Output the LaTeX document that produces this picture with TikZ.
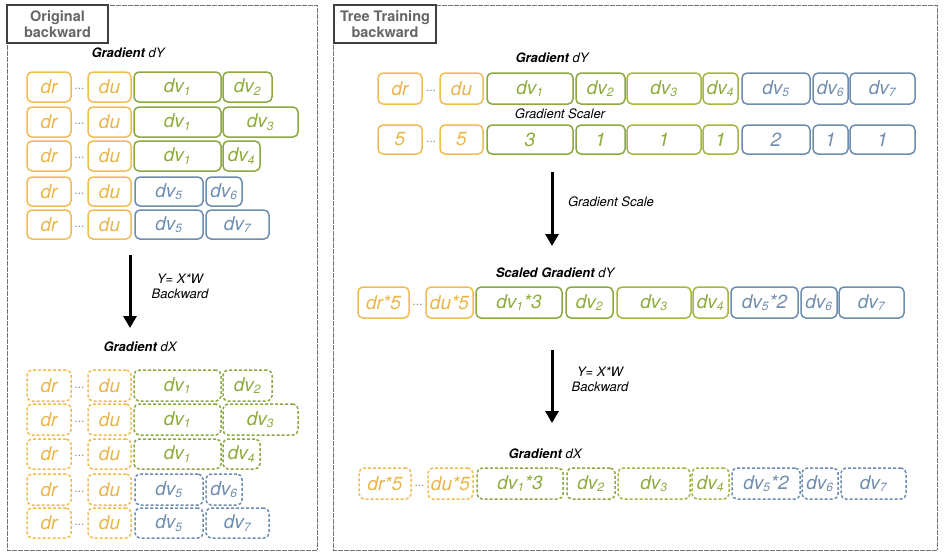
\documentclass[tikz,border=0pt]{standalone}
\usepackage{fontspec}
\setmainfont{TeX Gyre Heros}
\usetikzlibrary{arrows.meta}
\definecolor{orB}{HTML}{F0BC55}
\definecolor{orT}{HTML}{E9B549}
\definecolor{grB}{HTML}{8CA843}
\definecolor{grL}{HTML}{A6B640}
\definecolor{grT}{HTML}{8DAB3C}
\definecolor{blB}{HTML}{6C8DB0}
\definecolor{blT}{HTML}{6E8DAE}
\definecolor{ttl}{HTML}{666666}
\newcommand\sbs[1]{\textsubscript{\fontsize{12}{12}\selectfont #1}}
\newcommand\bx[7]{\node[#1, minimum width={#4-#3}, minimum height={#6-#5}] (#2) at ({(#3+#4)/2},{(#5+#6)/2}) {#7};}
\tikzset{
  cell/.style={draw, rounded corners=5pt, line width=1.5pt, inner sep=0pt, font=\fontsize{19}{19}\selectfont\itshape},
  orc/.style={cell, draw=orB, text=orT},
  grc/.style={cell, draw=grB, text=grT},
  glc/.style={cell, draw=grL, text=grT},
  blc/.style={cell, draw=blB, text=blT},
  dsh/.style={dash pattern=on 3pt off 2pt},
  ord/.style={orc, dsh},
  grd/.style={grc, dsh},
  gld/.style={glc, dsh},
  bld/.style={blc, dsh},
  panel/.style={draw=black!55, line width=0.9pt, dash pattern=on 0.6pt off 0.6pt},
  ttlbox/.style={draw=black!75, line width=1.3pt, fill=white, inner sep=0pt, align=center, text=ttl, font=\fontsize{14.5}{16}\selectfont\bfseries},
  lbl/.style={font=\fontsize{13}{15}\selectfont\itshape, align=center, inner sep=0pt},
  dots/.style={text=black!45, inner sep=0pt, font=\fontsize{12}{12}\selectfont},
  bigarrow/.style={line width=3pt, -{Triangle[width=13pt,length=12pt]}}
}
\begin{document}
\begin{tikzpicture}[x=1pt,y=-1pt]
\useasboundingbox (0,0) rectangle (947,558);
% panels
\draw[panel] (7,5) rectangle (317,550);
\draw[panel] (333,5) rectangle (937,550);
\bx{ttlbox}{t1}{7}{108}{5}{43}{Original\\backward}
\bx{ttlbox}{t2}{334}{436}{5}{43}{Tree Training\\backward}

% ---------- left panel ----------
\node[lbl] (lgy) at (128,53) {\textbf{Gradient} dY};
\foreach \r/\ya/\yb/\st in {1/72/102/,2/107/137/,3/141/171/,4/177/206/,5/210/239/,6/370/401/d,7/404/435/d,8/439/469/d,9/474/505/d,10/508/538/d}{
  \bx{or\ifx\st\empty c\else d\fi}{ldr\r}{27}{71}{\ya}{\yb}{dr}
  \bx{or\ifx\st\empty c\else d\fi}{ldu\r}{88}{131}{\ya}{\yb}{du}
  \node[dots] (ldt\r) at (79.5,{(\ya+\yb)/2+2}) {...};
}
\foreach \r/\ya/\yb/\s in {1/72/102/c,2/107/137/c,3/141/171/c,6/370/401/d,7/404/435/d,8/439/469/d}{
  \bx{gr\s}{lv1\r}{134}{221}{\ya}{\yb}{dv\sbs{1}}
}
\bx{grc}{lv2a}{223}{272}{72}{102}{dv\sbs{2}}
\bx{grc}{lv3a}{223}{298}{107}{137}{dv\sbs{3}}
\bx{grc}{lv4a}{223}{260}{141}{171}{dv\sbs{4}}
\bx{blc}{lv5a}{135}{203}{177}{206}{dv\sbs{5}}
\bx{blc}{lv6a}{206}{242}{177}{206}{dv\sbs{6}}
\bx{blc}{lv5b}{135}{203}{210}{239}{dv\sbs{5}}
\bx{blc}{lv7a}{206}{269}{210}{239}{dv\sbs{7}}
\bx{grd}{lv2b}{223}{272}{370}{401}{dv\sbs{2}}
\bx{grd}{lv3b}{223}{298}{404}{435}{dv\sbs{3}}
\bx{grd}{lv4b}{223}{260}{439}{469}{dv\sbs{4}}
\bx{bld}{lv5c}{135}{203}{474}{505}{dv\sbs{5}}
\bx{bld}{lv6b}{206}{242}{474}{505}{dv\sbs{6}}
\bx{bld}{lv5d}{135}{203}{508}{538}{dv\sbs{5}}
\bx{bld}{lv7b}{206}{269}{508}{538}{dv\sbs{7}}
\coordinate (la1) at (130,255);
\coordinate (la2) at (130,328);
\draw[bigarrow] (la1) -- (la2);
\node[lbl] (llab) at (180,286) {Y= X*W\\Backward};
\node[lbl] (lgx) at (140,347) {\textbf{Gradient} dX};

% ---------- right panel ----------
\node[lbl] (rgy) at (552,58) {\textbf{Gradient} dY};
\bx{orc}{rdr1}{378}{422}{73}{104}{dr}
\node[dots] (rdt1) at (431,90.5) {...};
\bx{orc}{rdu1}{440}{483}{73}{104}{du}
\bx{grc}{rv11}{487}{573}{73}{104}{dv\sbs{1}}
\bx{grc}{rv21}{576}{625}{73}{104}{dv\sbs{2}}
\bx{glc}{rv31}{627}{701}{73}{104}{dv\sbs{3}}
\bx{glc}{rv41}{703}{738}{73}{104}{dv\sbs{4}}
\bx{blc}{rv51}{742}{810}{73}{104}{dv\sbs{5}}
\bx{blc}{rv61}{813}{848}{73}{104}{dv\sbs{6}}
\bx{blc}{rv71}{850}{915}{73}{104}{dv\sbs{7}}
\node[lbl] (rgs) at (560,114) {Gradient Scaler};
\bx{orc}{rdr2}{378}{422}{125}{154}{5}
\node[dots] (rdt2) at (431,141.5) {...};
\bx{orc}{rdu2}{440}{483}{125}{154}{5}
\bx{grc}{rv12}{487}{573}{125}{154}{3}
\bx{grc}{rv22}{576}{625}{125}{154}{1}
\bx{glc}{rv32}{627}{701}{125}{154}{1}
\bx{glc}{rv42}{703}{738}{125}{154}{1}
\bx{blc}{rv52}{742}{810}{125}{154}{2}
\bx{blc}{rv62}{813}{848}{125}{154}{1}
\bx{blc}{rv72}{850}{915}{125}{154}{1}
\coordinate (ra1) at (552,172);
\coordinate (ra2) at (552,246);
\draw[bigarrow] (ra1) -- (ra2);
\node[lbl] (rsc) at (611,202) {Gradient Scale};
\node[lbl] (rsg) at (555,273) {\textbf{Scaled Gradient} dY};
\bx{orc}{rdr3}{358}{409}{287}{318}{dr*5}
\node[dots] (rdt3) at (417.5,304.5) {...};
\bx{orc}{rdu3}{426}{473}{287}{318}{du*5}
\bx{grc}{rv13}{476}{562}{287}{318}{dv\sbs{1}*3}
\bx{grc}{rv23}{566}{613}{287}{318}{dv\sbs{2}}
\bx{glc}{rv33}{617}{691}{287}{318}{dv\sbs{3}}
\bx{glc}{rv43}{693}{728}{287}{318}{dv\sbs{4}}
\bx{blc}{rv53}{731}{798}{287}{318}{dv\sbs{5}*2}
\bx{blc}{rv63}{801}{837}{287}{318}{dv\sbs{6}}
\bx{blc}{rv73}{839}{904}{287}{318}{dv\sbs{7}}
\coordinate (rb1) at (552,350);
\coordinate (rb2) at (552,423);
\draw[bigarrow] (rb1) -- (rb2);
\node[lbl] (rlab) at (600,379) {Y= X*W\\Backward};
\node[lbl] (rgx) at (545,454) {\textbf{Gradient} dX};
\bx{ord}{rdr4}{359}{411}{468}{499}{dr*5}
\node[dots] (rdt4) at (419.5,485.5) {...};
\bx{ord}{rdu4}{428}{473}{468}{499}{du*5}
\bx{grd}{rv14}{477}{563}{468}{499}{dv\sbs{1}*3}
\bx{grd}{rv24}{567}{615}{468}{499}{dv\sbs{2}}
\bx{gld}{rv34}{618}{690}{468}{499}{dv\sbs{3}}
\bx{gld}{rv44}{692}{729}{468}{499}{dv\sbs{4}}
\bx{bld}{rv54}{732}{800}{468}{499}{dv\sbs{5}*2}
\bx{bld}{rv64}{802}{838}{468}{499}{dv\sbs{6}}
\bx{bld}{rv74}{841}{906}{468}{499}{dv\sbs{7}}
\end{tikzpicture}
\end{document}
